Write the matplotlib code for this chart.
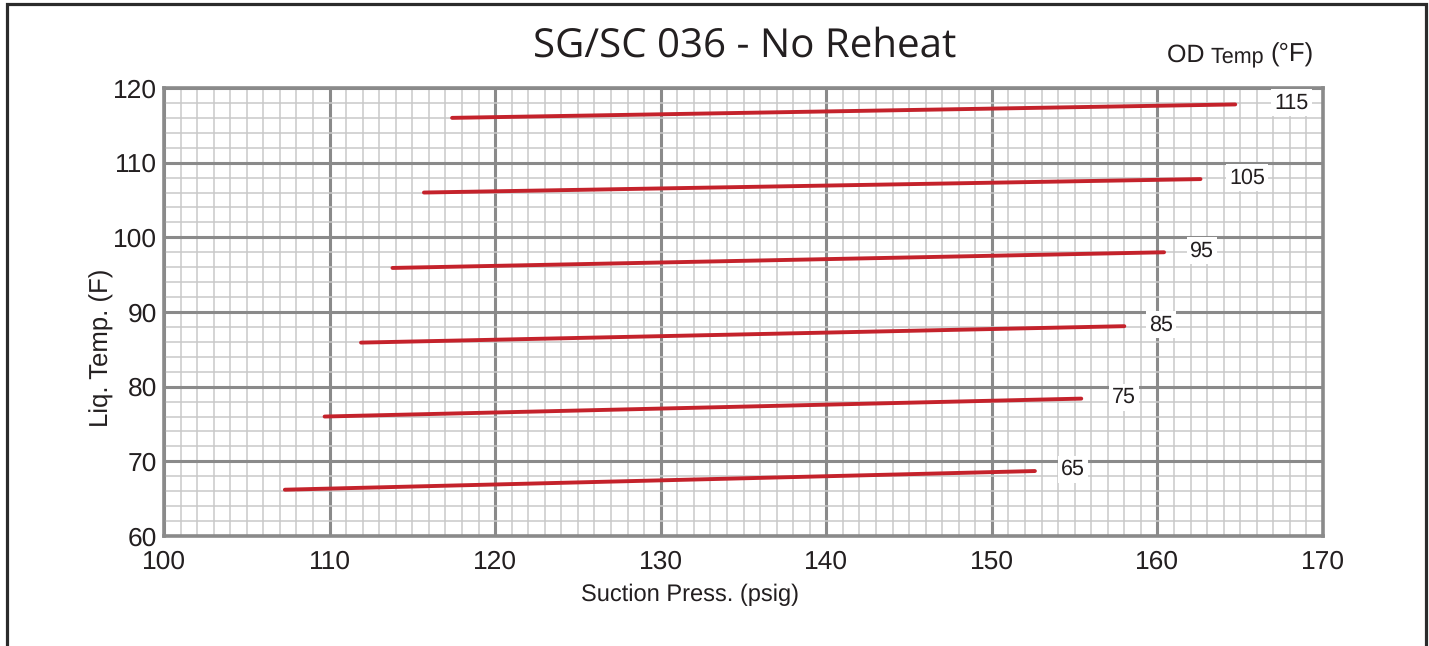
import numpy as np
import matplotlib.pyplot as plt
from matplotlib.patches import Rectangle
from matplotlib.ticker import MultipleLocator

# outdoor temperature curves: suction pressure (psig) vs liquid temp (F)
od_temps = [115, 105, 95, 85, 75, 65]
press_start = [117.4, 115.7, 113.8, 111.9, 109.7, 107.3]
press_end = [164.7, 162.6, 160.4, 158.0, 155.4, 152.6]
liq_start = [116.0, 106.0, 95.9, 85.9, 76.0, 66.2]
liq_end = [117.8, 107.8, 98.0, 88.1, 78.4, 68.7]
label_press = [168.1, 165.4, 162.7, 160.2, 158.0, 154.9]

x_ticks = [100, 110, 120, 130, 140, 150, 160, 170]
y_ticks = [60, 70, 80, 90, 100, 110, 120]

RED = '#c4222b'
TXT = '#231f20'
W, H = 1429, 646

plt.rcParams['font.family'] = ['Liberation Sans', 'DejaVu Sans']
plt.rcParams['text.hinting'] = 'no_hinting'

fig = plt.figure(figsize=(W / 100, H / 100), dpi=100, facecolor='white')
ax = fig.add_axes([164 / W, 1 - 536 / H, 1159 / W, 448 / H])

# outer frame, open at the bottom edge
fig.add_artist(Rectangle((7 / W, -0.05), 1419 / W, 1.05 - 4 / H,
                         transform=fig.transFigure, fill=False,
                         edgecolor='#2b2b2b', linewidth=2.3))

for ps, pe, ls, le, od, lx in zip(press_start, press_end, liq_start,
                                  liq_end, od_temps, label_press):
    ax.plot([ps, pe], [ls, le], color=RED, linewidth=2.8,
            solid_capstyle='round', zorder=3)
    ax.text(lx, le + 0.2, str(od), fontsize=15.5, color=TXT,
            ha='center', va='center', zorder=4,
            bbox=dict(boxstyle='square,pad=0.15', facecolor='white',
                      edgecolor='none'))

ax.set_xlim(100, 170)
ax.set_ylim(60, 120)
ax.set_xticks(x_ticks)
ax.set_yticks(y_ticks)
ax.xaxis.set_minor_locator(MultipleLocator(1))
ax.yaxis.set_minor_locator(MultipleLocator(2))
ax.grid(which='minor', color='#c9c9c9', linewidth=1.1, zorder=0)
ax.grid(which='major', color='#8a8a8a', linewidth=2.2, zorder=1)
ax.set_axisbelow(True)

ax.tick_params(which='both', length=0)
ax.tick_params(axis='x', pad=10, labelsize=19, labelcolor=TXT)
ax.tick_params(axis='y', pad=5, labelsize=19, labelcolor=TXT)
for sp in ax.spines.values():
    sp.set_color('#8a8a8a')
    sp.set_linewidth(2.6)

fig.text(690 / W, 1 - 595 / H, 'Suction Press. (psig)', fontsize=17,
         color=TXT, ha='center', va='center')
fig.text(102 / W, 1 - 348 / H, 'Liq. Temp. (F)', fontsize=18.5,
         color=TXT, ha='center', va='center', rotation=90)

fig.text(0.521, 0.929, 'SG/SC 036 - No Reheat', fontsize=29, color=TXT,
         ha='center', va='center', family=['Open Sans', 'DejaVu Sans'])

# legend heading with a smaller middle word
t1 = fig.text(1167 / W, 1 - 62 / H, 'OD ', fontsize=18, color=TXT,
              ha='left', va='baseline')
t2 = ax.annotate('Temp ', xy=(1, 0), xycoords=t1, fontsize=15.5,
                 color=TXT, ha='left', va='bottom')
ax.annotate('(°F)', xy=(1, 0), xycoords=t2, fontsize=18.5, color=TXT,
            ha='left', va='bottom')

fig.savefig('out.png', dpi=100, facecolor='white')
